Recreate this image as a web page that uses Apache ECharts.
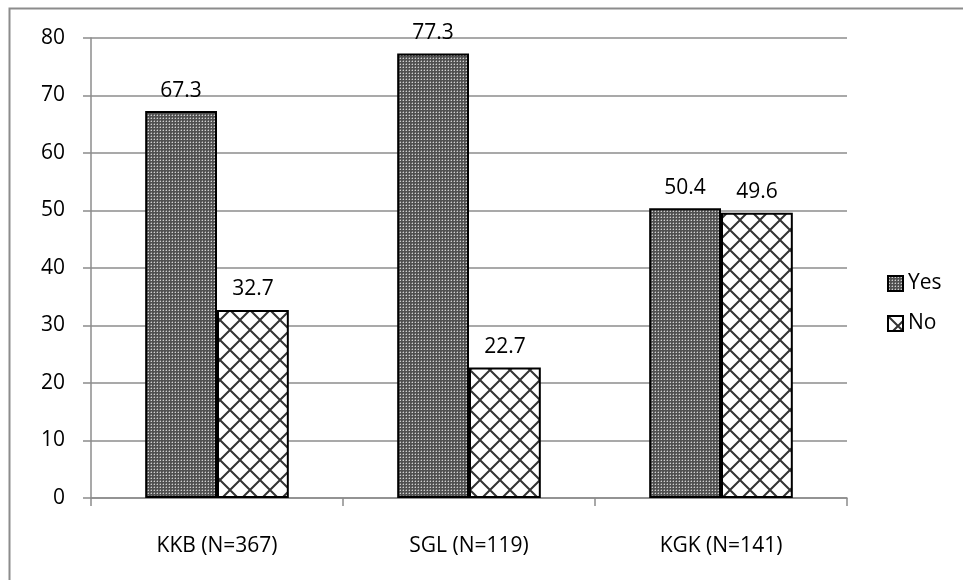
<!DOCTYPE html>
<html>
<head>
<meta charset="utf-8">
<script src="https://cdn.jsdelivr.net/npm/echarts@6/dist/echarts.min.js"></script>
<style>html,body{margin:0;padding:0;background:#fff;}#c{width:963px;height:580px;}</style>
</head>
<body>
<div id="c"></div>
<script>
const categories = ['KKB (N=367)', 'SGL (N=119)', 'KGK (N=141)'];
const yesValues = [67.3, 77.3, 50.4];
const noValues = [32.7, 22.7, 49.6];
const yTicks = [0, 10, 20, 30, 40, 50, 60, 70, 80];

function dotPattern() {
  const c = document.createElement('canvas');
  c.width = 3; c.height = 3;
  const g = c.getContext('2d');
  g.fillStyle = '#505050'; g.fillRect(0, 0, 3, 3);
  g.fillStyle = '#d0d0d0'; g.fillRect(1, 1, 1, 1);
  g.fillStyle = '#808080'; g.fillRect(0, 1, 1, 1); g.fillRect(1, 0, 1, 1);
  return c;
}
function crossPattern() {
  const s = 20;
  const c = document.createElement('canvas');
  c.width = s; c.height = s;
  const g = c.getContext('2d');
  g.fillStyle = '#ffffff'; g.fillRect(0, 0, s, s);
  g.strokeStyle = '#333333'; g.lineWidth = 2;
  g.beginPath();
  g.moveTo(0, 0); g.lineTo(s, s);
  g.moveTo(s, 0); g.lineTo(0, s);
  g.stroke();
  return c;
}

const chart = echarts.init(document.getElementById('c'), null, {renderer: 'canvas'});
const font = '"Open Sans", sans-serif';
const fs = 21;
chart.setOption({
  backgroundColor: '#ffffff',
  animation: false,
  graphic: [{
    type: 'rect', shape: {x: 9.5, y: 8.5, width: 1000, height: 1000},
    style: {fill: 'none', stroke: '#8c8c8c', lineWidth: 2}, silent: true, z: -10
  }],
  grid: {left: 91, right: 116, top: 38, bottom: 82},
  legend: {
    orient: 'vertical', left: 882, top: 268, itemGap: 19, itemWidth: 15, itemHeight: 15, icon: 'rect',
    textStyle: {fontFamily: font, fontSize: fs, color: '#000'},
    data: ['Yes', 'No']
  },
  xAxis: {
    type: 'category', data: categories,
    axisLine: {lineStyle: {color: '#8c8c8c', width: 1.5}},
    axisTick: {show: true, length: 8, lineStyle: {color: '#8c8c8c', width: 1.5}},
    axisLabel: {margin: 38, fontFamily: font, fontSize: fs, color: '#000'}
  },
  yAxis: {
    type: 'value', min: 0, max: 80, interval: 10,
    axisLine: {show: true, lineStyle: {color: '#8c8c8c', width: 1.5}},
    axisTick: {show: true, length: 8, lineStyle: {color: '#8c8c8c', width: 1.5}},
    axisLabel: {margin: 26, fontFamily: font, fontSize: fs, color: '#000',
      formatter: v => yTicks.includes(v) ? String(v) : ''},
    splitLine: {show: true, lineStyle: {color: '#8c8c8c', width: 1.5}}
  },
  series: [{
    name: 'Yes', type: 'bar', data: yesValues, barGap: '0%', barCategoryGap: '43%',
    itemStyle: {color: {image: dotPattern(), repeat: 'repeat'}, borderColor: '#000', borderWidth: 2},
    label: {show: true, position: 'top', distance: 10, fontFamily: font, fontSize: fs, color: '#000',
      formatter: p => p.value.toFixed(1)}
  }, {
    name: 'No', type: 'bar', data: noValues,
    itemStyle: {color: {image: crossPattern(), repeat: 'repeat'}, borderColor: '#000', borderWidth: 2},
    label: {show: true, position: 'top', distance: 10, fontFamily: font, fontSize: fs, color: '#000',
      formatter: p => p.value.toFixed(1)}
  }]
});
</script>
</body>
</html>
